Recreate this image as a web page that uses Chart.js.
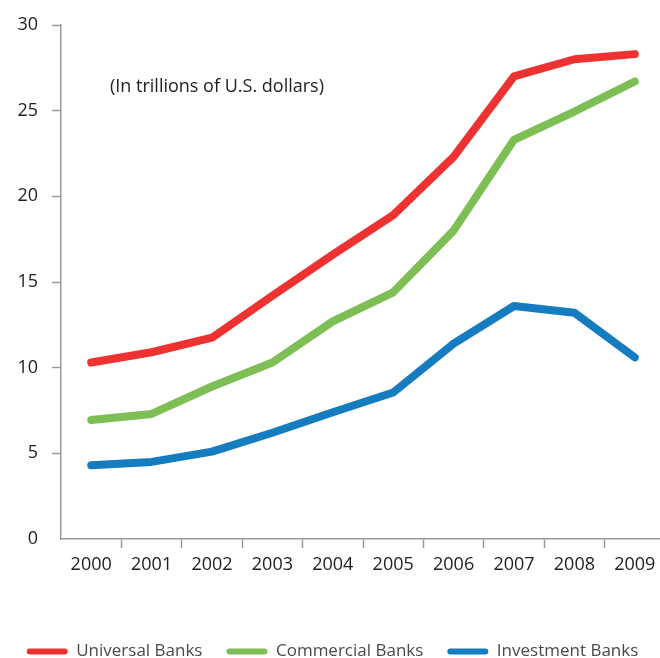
<!DOCTYPE html>
<html>
<head>
<meta charset="utf-8">
<script src="https://cdn.jsdelivr.net/npm/chart.js@4/dist/chart.umd.min.js"></script>
<style>
  html, body { margin: 0; padding: 0; background: #fff; overflow: hidden; }
  #wrap { width: 665px; height: 670px; }
</style>
</head>
<body>
<div id="wrap"><canvas id="chart" width="665" height="670"></canvas></div>
<script>
const years = ['2000', '2001', '2002', '2003', '2004', '2005', '2006', '2007', '2008', '2009'];
const universalBanks = [10.3, 10.9, 11.75, 14.2, 16.6, 18.9, 22.3, 27.0, 28.0, 28.3];
const commercialBanks = [6.95, 7.3, 8.9, 10.3, 12.7, 14.4, 18.0, 23.3, 24.95, 26.7];
const investmentBanks = [4.3, 4.5, 5.1, 6.2, 7.4, 8.55, 11.4, 13.6, 13.2, 10.6];
const yTicks = [0, 5, 10, 15, 20, 25, 30];

const unitNote = '(In trillions of U.S. dollars)';
const axisGray = '#999';
const textDark = '#222';
const baseFont = "'Open Sans', 'DejaVu Sans', sans-serif";

function series(label, data, color) {
    return {
        label: label,
        data: data,
        borderColor: color,
        backgroundColor: color,
        borderWidth: 8,
        borderCapStyle: 'round',
        borderJoinStyle: 'round',
        pointRadius: 0,
        pointHoverRadius: 0,
        tension: 0,
        fill: false
    };
}

// unit note sits inside the plot, near the top left
const notePlugin = {
    id: 'unitNote',
    afterDraw(chart) {
        const ctx = chart.ctx;
        const area = chart.chartArea;
        ctx.save();
        ctx.font = '18px ' + baseFont;
        ctx.fillStyle = textDark;
        ctx.textAlign = 'left';
        ctx.textBaseline = 'middle';
        ctx.fillText(unitNote, area.left + 49, area.top + 62);
        ctx.restore();
    }
};

new Chart(document.getElementById('chart'), {
    type: 'line',
    data: {
        labels: years,
        datasets: [
            series('Universal Banks', universalBanks, '#ee3131'),
            series('Commercial Banks', commercialBanks, '#7dbe55'),
            series('Investment Banks', investmentBanks, '#157cc0')
        ]
    },
    options: {
        responsive: false,
        animation: false,
        layout: { padding: { top: 25, left: 0, right: 0, bottom: 0 } },
        plugins: {
            tooltip: { enabled: false },
            legend: {
                position: 'bottom',
                labels: {
                    boxWidth: 41,
                    boxHeight: 6,
                    useBorderRadius: true,
                    borderRadius: 3,
                    padding: 24,
                    color: '#4a4a4a',
                    font: { family: baseFont, size: 17, lineHeight: 0.5 },
                    generateLabels(chart) {
                        const items = Chart.defaults.plugins.legend.labels.generateLabels(chart);
                        items.forEach(item => { item.lineWidth = 0; });
                        return items;
                    }
                }
            }
        },
        scales: {
            x: {
                offset: true,
                border: { display: true, color: axisGray, width: 1.5 },
                grid: {
                    offset: true,
                    drawOnChartArea: false,
                    drawTicks: true,
                    tickLength: 9,
                    tickWidth: 1.5,
                    color: ctx => ctx.index === 0 ? 'rgba(0,0,0,0)' : axisGray
                },
                ticks: {
                    color: textDark,
                    padding: 6,
                    maxRotation: 0,
                    font: { family: baseFont, size: 18 }
                },
                afterFit(scale) { scale.height = 80; }
            },
            y: {
                min: 0,
                max: 30,
                border: { display: true, color: axisGray, width: 1.5 },
                grid: {
                    drawOnChartArea: false,
                    drawTicks: true,
                    tickLength: 9,
                    tickWidth: 1.5,
                    color: ctx => ctx.tick && ctx.tick.value === 0 ? 'rgba(0,0,0,0)' : axisGray
                },
                afterBuildTicks(scale) {
                    scale.ticks = yTicks.map(v => ({ value: v }));
                },
                ticks: {
                    color: textDark,
                    padding: 14,
                    font: { family: baseFont, size: 18 }
                },
                afterFit(scale) { scale.width = 61; }
            }
        }
    },
    plugins: [notePlugin]
});
</script>
</body>
</html>
